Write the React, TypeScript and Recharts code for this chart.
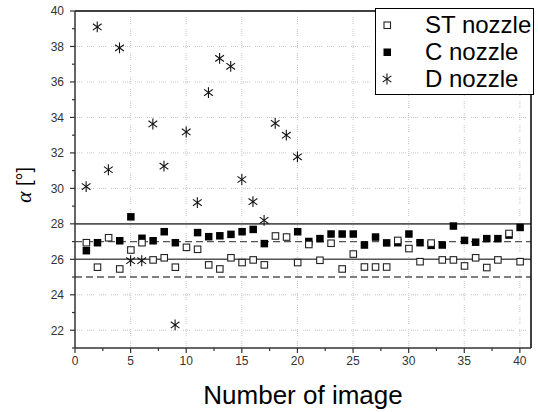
import React from 'react';
import { ScatterChart, Scatter, XAxis, YAxis, ReferenceLine } from 'recharts';

const imageNumbers = [1, 2, 3, 4, 5, 6, 7, 8, 9, 10, 11, 12, 13, 14, 15, 16, 17, 18, 19, 20, 21, 22, 23, 24, 25, 26, 27, 28, 29, 30, 31, 32, 33, 34, 35, 36, 37, 38, 39, 40];

const stNozzle = [26.95, 25.57, 27.23, 25.47, 26.54, 26.95, 25.98, 26.1, 25.57, 26.69, 26.58, 25.7, 25.47, 26.1, 25.83, 25.98, 25.7, 27.33, 27.27, 25.83, 26.85, 25.96, 26.92, 25.47, 26.31, 25.58, 25.58, 25.58, 27.08, 26.62, 25.88, 26.93, 25.98, 25.98, 25.64, 26.1, 25.55, 25.98, 27.47, 25.88];

const cNozzle: (number | null)[] = [26.5, 26.95, null, 27.06, 28.41, 27.2, 27.06, 27.57, 26.95, null, 27.52, 27.29, 27.34, 27.42, 27.57, 27.7, 26.9, null, null, 27.57, 27.02, 27.18, 27.44, 27.44, 27.44, 26.82, 27.27, 26.94, 26.95, 27.44, 26.95, 26.8, 26.82, 27.89, 27.08, 26.98, 27.18, 27.18, 27.38, 27.81];

const dNozzle = [30.1, 39.1, 31.05, 37.92, 25.92, 25.92, 33.63, 31.25, 22.3, 33.18, 29.2, 35.4, 37.33, 36.88, 30.5, 29.25, 28.2, 33.67, 33.0, 31.78];

const xMajorTicks = [0, 5, 10, 15, 20, 25, 30, 35, 40];
const xMinorTicks = [2.5, 7.5, 12.5, 17.5, 22.5, 27.5, 32.5, 37.5];
const yMajorTicks = [22, 24, 26, 28, 30, 32, 34, 36, 38, 40];
const yMinorTicks = [21, 23, 25, 27, 29, 31, 33, 35, 37, 39];
const xGridValues = [5, 10, 15, 20, 25, 30, 35, 40];
const yGridValues = [22, 24, 26, 28, 30, 32, 34, 36, 38];
const solidLimits = [28, 26];
const dashedLimits = [27, 25];
const xDomain = [0, 41];
const yDomain = [21, 40];

const legendItems = ['ST nozzle', 'C nozzle', 'D nozzle'];

const stData = imageNumbers.map((n, i) => ({ x: n, y: stNozzle[i] }));
const cData = imageNumbers
  .map((n, i) => ({ x: n, y: cNozzle[i] }))
  .filter((d) => d.y !== null);
const dData = dNozzle.map((v, i) => ({ x: imageNumbers[i], y: v }));

const xTicks = [...xMajorTicks, ...xMinorTicks].sort((a, b) => a - b);
const yTicks = [...yMajorTicks, ...yMinorTicks].sort((a, b) => a - b);

const FONT = '"Liberation Sans", Arial, sans-serif';

const OpenSquare = (props: any) => {
  const { cx, cy } = props;
  if (cx == null || cy == null) return null;
  return <rect x={cx - 3} y={cy - 3} width={6.5} height={6.5} fill="#fff" stroke="#222" strokeWidth={1.1} />;
};

const FilledSquare = (props: any) => {
  const { cx, cy } = props;
  if (cx == null || cy == null) return null;
  return <rect x={cx - 3.5} y={cy - 3.5} width={7.5} height={7.5} fill="#000" stroke="none" />;
};

const StarShape = (props: any) => {
  const { cx, cy } = props;
  if (cx == null || cy == null) return null;
  const r = 5.4;
  const a = r * Math.cos(Math.PI / 5);
  const b = r * Math.sin(Math.PI / 5);
  return (
    <g stroke="#111" strokeWidth={1.1}>
      <line x1={cx} y1={cy - r} x2={cx} y2={cy + r} />
      <line x1={cx - a} y1={cy - b} x2={cx + a} y2={cy + b} />
      <line x1={cx - a} y1={cy + b} x2={cx + a} y2={cy - b} />
    </g>
  );
};

const XTick = (props: any) => {
  const { x, y, payload } = props;
  const v = payload.value;
  const major = v % 5 === 0;
  return (
    <g>
      <line x1={x} x2={x} y1={y} y2={y + (major ? 5 : 3)} stroke="#333" strokeWidth={1.2} />
      {major && (
        <text x={x} y={y + 17} textAnchor="middle" fontSize={12} fontFamily={FONT} fill="#333">
          {v}
        </text>
      )}
    </g>
  );
};

const YTick = (props: any) => {
  const { x, y, payload } = props;
  const v = payload.value;
  const major = v % 2 === 0;
  return (
    <g>
      <line x1={x} x2={x - (major ? 5 : 3)} y1={y} y2={y} stroke="#333" strokeWidth={1.2} />
      {major && (
        <text x={x - 11} y={y + 4.3} textAnchor="end" fontSize={12} fontFamily={FONT} fill="#333">
          {v}
        </text>
      )}
    </g>
  );
};

const LegendSymbol = ({ i }: { i: number }) => (
  <svg width={16} height={16} style={{ display: 'block' }}>
    {i === 0 && <OpenSquare cx={8} cy={8} />}
    {i === 1 && <FilledSquare cx={8} cy={8} />}
    {i === 2 && <StarShape cx={8} cy={8} />}
  </svg>
);

export default function App() {
  return (
    <div style={{ position: 'absolute', left: 0, top: 0, width: 538, height: 412, background: '#fff' }}>
      <ScatterChart width={538} height={412} margin={{ top: 11, right: 7, bottom: 0, left: 0 }}>
        <XAxis
          type="number"
          dataKey="x"
          domain={xDomain}
          ticks={xTicks}
          interval={0}
          height={64}
          tickSize={0}
          tickMargin={0}
          tick={<XTick />}
          tickLine={false}
          axisLine={{ stroke: '#333', strokeWidth: 1.5 }}
          allowDataOverflow
        />
        <YAxis
          type="number"
          dataKey="y"
          domain={yDomain}
          ticks={yTicks}
          interval={0}
          width={75}
          tickSize={0}
          tickMargin={0}
          tick={<YTick />}
          tickLine={false}
          axisLine={{ stroke: '#333', strokeWidth: 1.5 }}
          allowDataOverflow
        />
        {xGridValues.map((v) => (
          <ReferenceLine key={'gx' + v} x={v} stroke="#c4c4c4" strokeWidth={1} strokeDasharray="1 1 1 1 1 1 1 5" />
        ))}
        {yGridValues.map((v) => (
          <ReferenceLine key={'gy' + v} y={v} stroke="#c4c4c4" strokeWidth={1} strokeDasharray="1 1 1 1 1 1 1 5" />
        ))}
        {solidLimits.map((v) => (
          <ReferenceLine key={'s' + v} y={v} stroke="#555" strokeWidth={1.6} />
        ))}
        {dashedLimits.map((v) => (
          <ReferenceLine key={'d' + v} y={v} stroke="#555" strokeWidth={1.4} strokeDasharray="7 4" />
        ))}
        <ReferenceLine y={40} stroke="#000" strokeWidth={1.5} />
        <ReferenceLine x={41} stroke="#000" strokeWidth={1.5} />
        <Scatter name="C nozzle" data={cData} shape={<FilledSquare />} isAnimationActive={false} />
        <Scatter name="ST nozzle" data={stData} shape={<OpenSquare />} isAnimationActive={false} />
        <Scatter name="D nozzle" data={dData} shape={<StarShape />} isAnimationActive={false} />
      </ScatterChart>
      <svg width={538} height={412} style={{ position: 'absolute', left: 0, top: 0, pointerEvents: 'none' }}>
        <text x={303} y={404} textAnchor="middle" fontSize={26} fontFamily={FONT} fill="#000">
          Number of image
        </text>
        <text transform="translate(31,185) rotate(-90)" textAnchor="middle" fontSize={22} fill="#000">
          <tspan fontFamily='"Liberation Serif", "Times New Roman", serif' fontStyle="italic">α</tspan>
          <tspan fontFamily={FONT} fontSize={20}> [°]</tspan>
        </text>
      </svg>
      <div
        style={{
          position: 'absolute',
          left: 375,
          top: 8,
          width: 157,
          height: 83,
          border: '1px solid #000',
          background: '#fff',
          fontFamily: FONT,
          fontSize: 24,
          color: '#000',
          paddingTop: 2,
          boxSizing: 'content-box',
        }}
      >
        {legendItems.map((label, i) => (
          <div key={label} style={{ display: 'flex', alignItems: 'center', height: 27, lineHeight: '27px' }}>
            <div style={{ width: 46, display: 'flex', justifyContent: 'flex-start', paddingLeft: 3 }}>
              <LegendSymbol i={i} />
            </div>
            <span style={{ whiteSpace: 'nowrap' }}>{label}</span>
          </div>
        ))}
      </div>
    </div>
  );
}
